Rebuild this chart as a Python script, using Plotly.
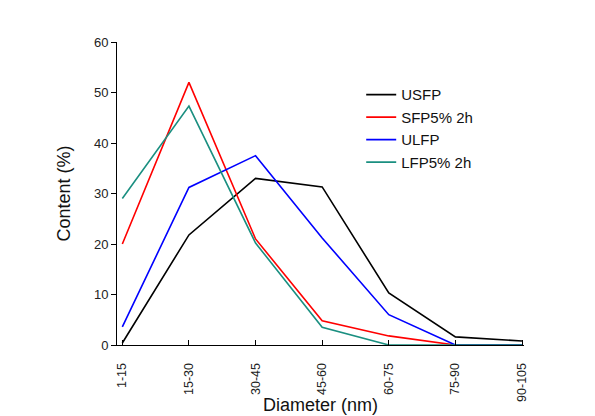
import plotly.graph_objects as go

categories = ["1-15", "15-30", "30-45", "45-60", "60-75", "75-90", "90-105"]
usfp = [0.4, 21.8, 33.0, 31.3, 10.3, 1.6, 0.8]
sfp5 = [20.0, 52.0, 21.0, 4.8, 1.8, 0.0, 0.0]
ulfp = [3.6, 31.2, 37.5, 21.2, 6.0, 0.0, 0.0]
lfp5 = [29.0, 47.3, 20.2, 3.5, 0.0, 0.0, 0.0]

series = [
    ("USFP", usfp, "#000000"),
    ("SFP5% 2h", sfp5, "#ff0000"),
    ("ULFP", ulfp, "#0000ff"),
    ("LFP5% 2h", lfp5, "#1a8f80"),
]

fig = go.Figure()
for name, vals, color in series:
    fig.add_trace(go.Scatter(x=categories, y=vals, name=name, mode="lines",
                             line=dict(color=color, width=1.6)))

font = "Liberation Sans, Arial, sans-serif"
fig.update_layout(
    width=595, height=416,
    margin=dict(l=117, r=71, t=42, b=71),
    paper_bgcolor="white", plot_bgcolor="white",
    font=dict(family=font, color="#222222", size=12),
    showlegend=True,
    legend=dict(x=0.6, y=0.88, xanchor="left", yanchor="top",
                bgcolor="rgba(0,0,0,0)", font=dict(size=15, color="#111111"),
                tracegroupgap=0, itemwidth=30),
    xaxis=dict(type="category", categoryorder="array", categoryarray=categories,
               range=[-0.08, 6.03], showline=True, linecolor="black", linewidth=1,
               ticks="inside", ticklen=5, tickcolor="black", tickangle=-90,
               ticklabelstandoff=12,
               showgrid=False, zeroline=False,
               tickfont=dict(size=12.5, color="#222222")),
    yaxis=dict(range=[0, 60], tickvals=[0, 10, 20, 30, 40, 50, 60],
               showline=True, linecolor="black", linewidth=1,
               ticks="outside", ticklen=5, tickcolor="black",
               showgrid=False, zeroline=False,
               tickfont=dict(size=13, color="#222222"),
               title=dict(text="Content (%)", font=dict(size=18, color="#111111"), standoff=18)),
    annotations=[dict(text="Diameter (nm)", xref="paper", yref="paper",
                      x=0.499, y=-0.197, xanchor="center", yanchor="middle",
                      showarrow=False, font=dict(size=18, color="#111111"))],
)

fig.write_html("out.html", config={"displayModeBar": False},
               post_script="document.body.style.margin='0';")
